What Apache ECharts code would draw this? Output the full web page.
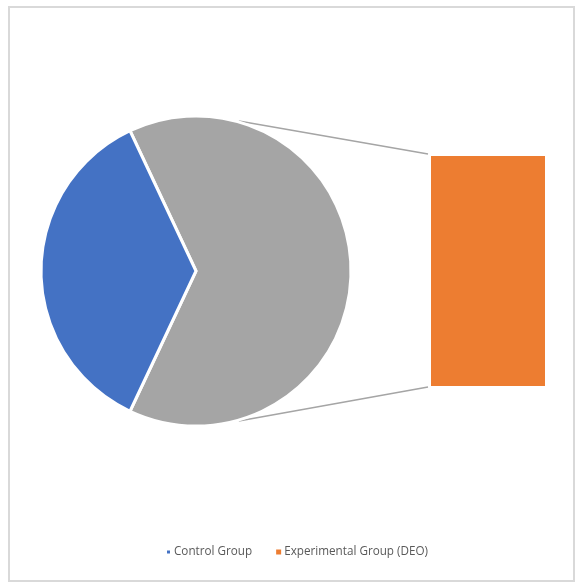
<!DOCTYPE html>
<html>
<head>
<meta charset="utf-8">
<script src="https://cdn.jsdelivr.net/npm/echarts@6/dist/echarts.min.js"></script>
<style>
html,body{margin:0;padding:0;background:#fff;}
#chart{width:577px;height:584px;}
</style>
</head>
<body>
<div id="chart"></div>
<script>
// Data
const pieCategories = ['Other', 'Control Group'];
const pieValues = [64, 36];
const barCategories = ['Experimental Group (DEO)'];
const barValues = [64];
const legendLabels = ['Control Group', 'Experimental Group (DEO)'];

const colors = { control: '#4472C4', other: '#A5A5A5', exp: '#ED7D31', line: '#A5A5A5' };

const chart = echarts.init(document.getElementById('chart'), null, { renderer: 'canvas' });

const cx = 196, cy = 271, R = 155;
const total = pieValues.reduce((a, b) => a + b, 0);
const otherSweep = pieValues[0] / total * 360;
const startAngle = otherSweep / 2; // other slice centred on the right (0°)

const barLeft = 431, barTop = 156, barW = 114, barH = 230;
const connAngle = 74 * Math.PI / 180;
const topPt = [cx + R * Math.cos(connAngle), cy - R * Math.sin(connAngle) - 1];
const botPt = [cx + R * Math.cos(connAngle), cy + R * Math.sin(connAngle) + 1];

const option = {
  animation: false,
  backgroundColor: '#fff',
  textStyle: { fontFamily: 'Open Sans, sans-serif' },
  legend: {
    data: legendLabels,
    bottom: 21,
    left: 160,
    icon: 'rect',
    itemWidth: 5,
    itemHeight: 5,
    itemGap: 24,
    textStyle: { fontSize: 11.7, color: '#595959', fontFamily: 'Open Sans, sans-serif', padding: [0, 0, 0, -2] },
    selectedMode: false
  },
  grid: { left: barLeft, top: barTop, width: barW, height: barH },
  xAxis: { type: 'category', data: ['bar'], show: false },
  yAxis: { type: 'value', min: 0, max: pieValues[0], show: false },
  graphic: [
    { type: 'rect', shape: { x: 9, y: 7, width: 565, height: 574 }, style: { fill: 'none', stroke: '#d9d9d9', lineWidth: 2 }, z: 0 },
    { type: 'line', shape: { x1: topPt[0], y1: topPt[1], x2: barLeft - 3, y2: barTop - 2 }, style: { stroke: colors.line, lineWidth: 1.5 } },
    { type: 'line', shape: { x1: botPt[0], y1: botPt[1], x2: barLeft - 3, y2: barTop + barH + 1 }, style: { stroke: colors.line, lineWidth: 1.5 } }
  ],
  series: [
    {
      type: 'pie',
      center: [cx, cy],
      radius: R,
      startAngle: startAngle,
      clockwise: true,
      label: { show: false },
      labelLine: { show: false },
      emphasis: { disabled: true },
      itemStyle: { borderColor: '#fff', borderWidth: 3 },
      data: [
        { name: pieCategories[0], value: pieValues[0], itemStyle: { color: colors.other } },
        { name: pieCategories[1], value: pieValues[1], itemStyle: { color: colors.control } }
      ]
    },
    {
      type: 'bar',
      name: barCategories[0],
      data: barValues,
      barWidth: '100%',
      itemStyle: { color: colors.exp },
      emphasis: { disabled: true }
    }
  ]
};
chart.setOption(option);
</script>
</body>
</html>
